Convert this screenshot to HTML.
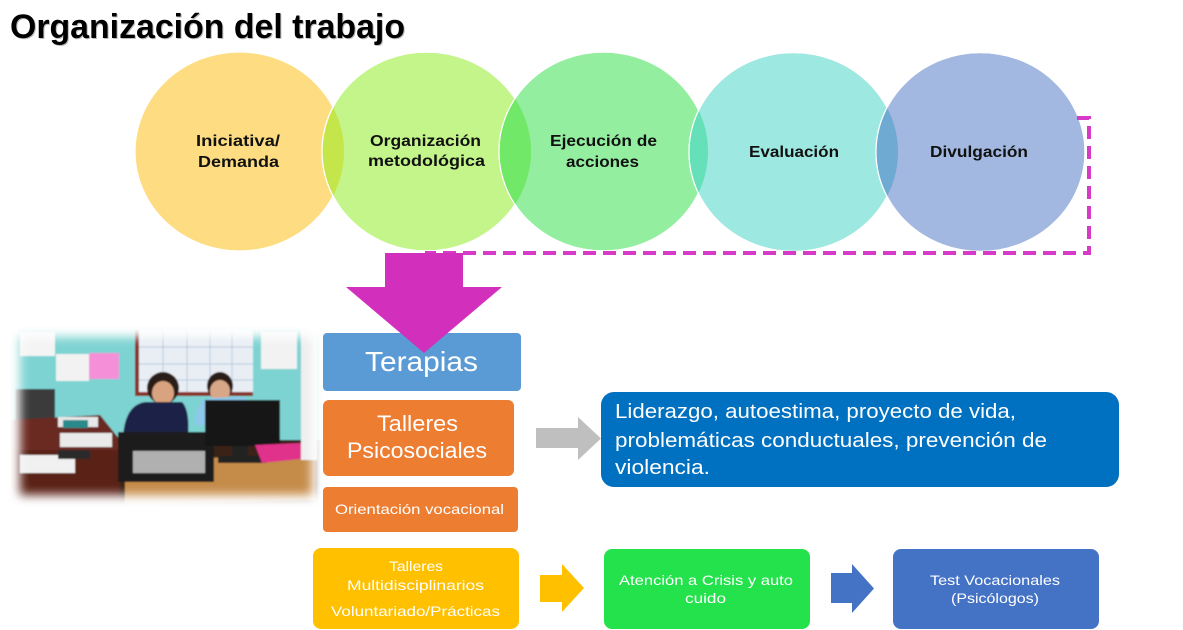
<!DOCTYPE html>
<html><head><meta charset="utf-8"><style>
html,body{margin:0;padding:0;background:#fff;}
svg{display:block;}
text{font-family:"Liberation Sans",Arial,sans-serif;}
</style></head><body>
<svg width="1183" height="630" viewBox="0 0 1183 630" xmlns="http://www.w3.org/2000/svg">
<defs>
<clipPath id="k1"><ellipse cx="239.5" cy="151.5" rx="104.5" ry="99.5"/></clipPath>
<clipPath id="k2"><ellipse cx="426.5" cy="151.5" rx="104.5" ry="99.5"/></clipPath>
<clipPath id="k3"><ellipse cx="603.5" cy="151.5" rx="104.5" ry="99.5"/></clipPath>
<clipPath id="k4"><ellipse cx="793.5" cy="152" rx="104.5" ry="99.5"/></clipPath>
<filter id="fb" x="-20%" y="-20%" width="140%" height="140%"><feGaussianBlur stdDeviation="5"/></filter>
<filter id="soft"><feGaussianBlur stdDeviation="0.8"/></filter>
<mask id="pm"><rect x="0" y="320" width="340" height="200" fill="#000"/><rect x="20" y="337" width="292" height="158" fill="#fff" filter="url(#fb)"/></mask>
</defs>
<rect width="1183" height="630" fill="#fff"/>

<!-- title -->
<text x="11" y="39" font-size="34" font-weight="bold" fill="#bbb" textLength="395" lengthAdjust="spacingAndGlyphs">Organización del trabajo</text>
<text x="10" y="38" font-size="34" font-weight="bold" fill="#000" textLength="395" lengthAdjust="spacingAndGlyphs">Organización del trabajo</text>

<!-- circles -->
<ellipse cx="239.5" cy="151.5" rx="104.5" ry="99.5" fill="#FDDC82" stroke="#fff" stroke-width="1.2"/>
<ellipse cx="426.5" cy="151.5" rx="104.5" ry="99.5" fill="#C4F58A" stroke="#fff" stroke-width="1.2"/>
<ellipse cx="426.5" cy="151.5" rx="104.5" ry="99.5" fill="#C5E64B" clip-path="url(#k1)"/>
<ellipse cx="426.5" cy="151.5" rx="104.5" ry="99.5" fill="none" stroke="#fff" stroke-width="1.2"/>
<ellipse cx="603.5" cy="151.5" rx="104.5" ry="99.5" fill="#94EEA0" stroke="#fff" stroke-width="1.2"/>
<ellipse cx="603.5" cy="151.5" rx="104.5" ry="99.5" fill="#72E868" clip-path="url(#k2)"/>
<ellipse cx="603.5" cy="151.5" rx="104.5" ry="99.5" fill="none" stroke="#fff" stroke-width="1.2"/>
<ellipse cx="793.5" cy="152" rx="104.5" ry="99.5" fill="#9DE8E0" stroke="#fff" stroke-width="1.2"/>
<ellipse cx="793.5" cy="152" rx="104.5" ry="99.5" fill="#66E0B8" clip-path="url(#k3)"/>
<ellipse cx="793.5" cy="152" rx="104.5" ry="99.5" fill="none" stroke="#fff" stroke-width="1.2"/>
<ellipse cx="980.5" cy="152" rx="104.5" ry="99.5" fill="#A2B8E0" stroke="#fff" stroke-width="1.2"/>
<ellipse cx="980.5" cy="152" rx="104.5" ry="99.5" fill="#6FAAD2" clip-path="url(#k4)"/>
<ellipse cx="980.5" cy="152" rx="104.5" ry="99.5" fill="none" stroke="#fff" stroke-width="1.2"/>

<g font-size="16" font-weight="bold" fill="#111">
<text x="196" y="146" textLength="84" lengthAdjust="spacingAndGlyphs">Iniciativa/</text>
<text x="198" y="167" textLength="81" lengthAdjust="spacingAndGlyphs">Demanda</text>
<text x="370" y="146" textLength="111" lengthAdjust="spacingAndGlyphs">Organización</text>
<text x="368" y="166" textLength="117" lengthAdjust="spacingAndGlyphs">metodológica</text>
<text x="550" y="146" textLength="107" lengthAdjust="spacingAndGlyphs">Ejecución de</text>
<text x="566" y="167" textLength="73" lengthAdjust="spacingAndGlyphs">acciones</text>
<text x="749" y="157" textLength="90" lengthAdjust="spacingAndGlyphs">Evaluación</text>
<text x="930" y="157" textLength="98" lengthAdjust="spacingAndGlyphs">Divulgación</text>
</g>

<!-- dashed loop -->
<polyline points="1077,118 1089,118 1089,253 425,253" fill="none" stroke="#D63AC6" stroke-width="4" stroke-dasharray="13,7"/>

<!-- photo -->
<g mask="url(#pm)">
<g filter="url(#soft)">
<rect x="10" y="325" width="315" height="185" fill="#7DD3D2"/>
<rect x="20" y="332" width="35" height="24" fill="#f4f4f4"/>
<rect x="56" y="354" width="33" height="27" fill="#f2f2f2"/>
<rect x="89" y="353" width="30" height="26" fill="#F48FD8"/>
<rect x="261" y="332" width="36" height="37" fill="#f2f2f2"/>
<rect x="135" y="330" width="118" height="66" fill="#8a3328"/>
<rect x="139" y="330" width="114" height="62" fill="#E8EEF4"/>
<g stroke="#b8c8dc" stroke-width="1">
<line x1="139" y1="347" x2="253" y2="347"/><line x1="139" y1="364" x2="253" y2="364"/><line x1="139" y1="380" x2="253" y2="380"/>
<line x1="163" y1="330" x2="163" y2="392"/><line x1="187" y1="330" x2="187" y2="392"/><line x1="210" y1="330" x2="210" y2="392"/><line x1="232" y1="330" x2="232" y2="392"/>
</g>
<rect x="15" y="389" width="40" height="32" fill="#3a3a3a"/>
<polygon points="10,420 100,415 120,440 120,510 10,510" fill="#6b2a22"/>
<rect x="10" y="450" width="112" height="60" fill="#5a2018"/>
<rect x="58" y="417" width="40" height="10" fill="#e8e8e8"/>
<rect x="20" y="455" width="55" height="18" fill="#f0f0f0"/>
<rect x="60" y="433" width="52" height="14" fill="#eaeaea"/>
<rect x="58" y="450" width="32" height="9" fill="#2a2a2a"/>
<rect x="63" y="420" width="25" height="8" fill="#2a8a8a"/>
<ellipse cx="163" cy="388" rx="16" ry="16" fill="#2a1a14"/>
<ellipse cx="163" cy="393" rx="11" ry="12" fill="#d9a37f"/>
<path d="M123 437 Q125 405 145 402 L182 402 Q190 410 188 437 Z" fill="#1f2147"/>
<ellipse cx="220" cy="386" rx="13" ry="14" fill="#2a1a14"/>
<ellipse cx="220" cy="391" rx="10" ry="11" fill="#d8a788"/>
<path d="M195 425 Q196 400 210 398 L240 397 Q258 402 258 420 L258 428 Z" fill="#8EC8EC"/>
<rect x="120" y="440" width="200" height="70" fill="#3a2418"/>
<polygon points="125,460 315,455 315,500 125,505" fill="#C58B4A"/>
<rect x="118" y="432" width="96" height="50" fill="#1e1e1e"/>
<rect x="133" y="451" width="72" height="22" fill="#b0b0b0"/>
<rect x="205" y="400" width="75" height="46" fill="#161616"/>
<rect x="232" y="446" width="16" height="14" fill="#222"/>
<rect x="218" y="456" width="48" height="7" fill="#222"/>
<polygon points="255,445 300,443 310,458 262,463" fill="#E0308A"/>
<rect x="301" y="325" width="16" height="135" fill="#eeeeee"/>
</g>
</g>

<!-- left boxes -->
<rect x="323" y="333" width="198" height="58" rx="4" fill="#5B9BD5"/>
<text x="365" y="371" font-size="28" fill="#fff" textLength="113" lengthAdjust="spacingAndGlyphs">Terapias</text>

<!-- big magenta arrow -->
<polygon points="385,253 463,253 463,287 502,287 424,353 346,287 385,287" fill="#D22FBD"/>

<rect x="323" y="400" width="191" height="76" rx="6" fill="#ED7D31"/>
<text x="377" y="431" font-size="22" fill="#fff" textLength="81" lengthAdjust="spacingAndGlyphs">Talleres</text>
<text x="347" y="458" font-size="22" fill="#fff" textLength="140" lengthAdjust="spacingAndGlyphs">Psicosociales</text>

<rect x="323" y="487" width="195" height="45" rx="4" fill="#ED7D31"/>
<text x="335" y="514" font-size="14" fill="#fff" textLength="169" lengthAdjust="spacingAndGlyphs">Orientación vocacional</text>

<rect x="313" y="548" width="206" height="81" rx="8" fill="#FFC000"/>
<text x="389" y="571" font-size="14" fill="#fff" textLength="54" lengthAdjust="spacingAndGlyphs">Talleres</text>
<text x="347" y="590" font-size="14" fill="#fff" textLength="137" lengthAdjust="spacingAndGlyphs">Multidisciplinarios</text>
<text x="331" y="616" font-size="14" fill="#fff" textLength="169" lengthAdjust="spacingAndGlyphs">Voluntariado/Prácticas</text>

<!-- gray arrow -->
<polygon points="536,428 578,428 578,417 601,438.5 578,460 578,448 536,448" fill="#BFBFBF"/>

<!-- blue box -->
<rect x="601" y="392" width="518" height="95" rx="13" fill="#0070C0"/>
<g font-size="20" fill="#fff">
<text x="615" y="418" textLength="401" lengthAdjust="spacingAndGlyphs">Liderazgo, autoestima, proyecto de vida,</text>
<text x="615" y="447" textLength="432" lengthAdjust="spacingAndGlyphs">problemáticas conductuales, prevención de</text>
<text x="615" y="474" textLength="95" lengthAdjust="spacingAndGlyphs">violencia.</text>
</g>

<!-- yellow arrow -->
<polygon points="540,575 562,575 562,564 584,588 562,612 562,602 540,602" fill="#FFC000"/>

<!-- green box -->
<rect x="604" y="549" width="206" height="80" rx="8" fill="#24E24C"/>
<text x="619" y="585" font-size="14" fill="#fff" textLength="174" lengthAdjust="spacingAndGlyphs">Atención a Crisis y auto</text>
<text x="685" y="603" font-size="14" fill="#fff" textLength="41" lengthAdjust="spacingAndGlyphs">cuido</text>

<!-- blue arrow -->
<polygon points="831,573 852,573 852,564 874,588.5 852,613 852,603 831,603" fill="#4472C4"/>

<!-- test box -->
<rect x="893" y="549" width="206" height="80" rx="8" fill="#4472C4"/>
<text x="930" y="585" font-size="14" fill="#fff" textLength="130" lengthAdjust="spacingAndGlyphs">Test Vocacionales</text>
<text x="951" y="603" font-size="14" fill="#fff" textLength="88" lengthAdjust="spacingAndGlyphs">(Psicólogos)</text>
</svg>
</body></html>
